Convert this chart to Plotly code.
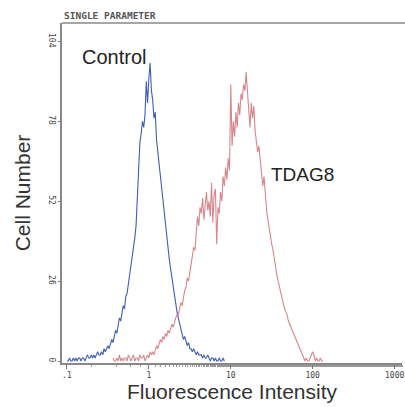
import numpy as np
import plotly.graph_objects as go

# 256-channel, 4-decade log histogram (64 channels per decade, channel 0 = 0.1)
CHANNELS_PER_DECADE = 64
control_start_channel = 0
control_counts = [
    0, 0, 1, 0, 0, 1, 0, 1, 0, 1, 1,
    0, 1, 1, 0, 1, 2, 1, 1, 2, 1,
    2, 1, 2, 3, 2, 2, 3, 2, 4, 3,
    4, 5, 4, 6, 7, 6,
    8, 10, 9, 12, 14, 13,
    16, 18, 17, 21, 22, 25,
    27, 31, 33, 37, 40, 44,
    52, 60, 71, 74, 78, 76,
    80, 91, 84, 92, 97, 88,
    85, 79, 81, 72, 68, 63,
    59, 55, 51, 47, 43, 40,
    37, 33, 30, 27, 24, 21,
    18, 16, 14, 12, 10, 9,
    7, 8, 6, 5, 6, 4,
    4, 3, 4, 3, 2, 3, 2, 2,
    2, 1, 2, 1, 1, 2, 1, 0, 1, 1, 0,
    1, 0, 0, 1, 0, 0, 1, 0,
]
tdag8_start_channel = 36
tdag8_counts = [
    1, 0, 0, 1, 0, 2, 0, 1, 0, 1,
    1, 0, 2, 1, 0, 1, 2, 0, 1, 1,
    0, 2, 1, 1, 2, 0, 1, 2,
    1, 3, 2, 3, 2, 4, 5,
    4, 6, 7, 6, 8, 7, 9, 8,
    10, 9, 11, 12, 11, 13, 14, 15,
    15, 17, 19, 18, 21, 23, 24, 27,
    26, 29, 31, 34, 37, 36, 42, 47,
    44, 50, 48, 53, 46, 51, 55, 49,
    52, 47, 58, 45, 54, 56, 38, 50,
    48, 55, 52, 60, 57, 63, 59, 66,
    62, 90, 70, 78, 73, 81, 76, 84,
    80, 87, 85, 90, 88, 94, 86, 82,
    76, 84, 79, 83, 75, 72, 68, 70,
    65, 62, 57, 60, 53, 49, 46, 43,
    41, 38, 36, 33, 31, 28, 26, 24,
    22, 21, 19, 17, 16, 15, 13, 12,
    11, 10, 9, 8, 7, 6, 5, 4,
    3, 2, 1, 0, 1, 0, 0, 1, 2, 3,
    2, 0, 1, 0, 0, 1, 0, 0,
]
x_tick_values = [0.1, 1, 10, 100, 1000]
x_tick_labels = [".1", "1", "10", "100", "1000"]
y_tick_values = [0, 26, 52, 78, 104]
y_tick_labels = ["0", "26", "52", "78", "104"]


def channel_to_intensity(start, n):
    ch = np.arange(start, start + n)
    return 10 ** (ch / CHANNELS_PER_DECADE - 1)


fig = go.Figure()
fig.add_trace(go.Scatter(
    x=channel_to_intensity(control_start_channel, len(control_counts)),
    y=control_counts, mode="lines",
    line=dict(color="#3d5fb2", width=1.1), showlegend=False))
fig.add_trace(go.Scatter(
    x=channel_to_intensity(tdag8_start_channel, len(tdag8_counts)),
    y=tdag8_counts, mode="lines",
    line=dict(color="#d8868c", width=1.1), showlegend=False))

tickfont = dict(family="DejaVu Sans Mono", size=8, color="#444444")
fig.update_layout(
    width=405, height=407,
    margin=dict(l=62, r=3, t=23, b=44),
    paper_bgcolor="white", plot_bgcolor="white",
    xaxis=dict(type="log", range=[-1.06, 3.09], automargin=False,
               tickvals=x_tick_values, ticktext=x_tick_labels,
               ticks="outside", ticklen=4, tickcolor="#777",
               minor=dict(ticks="outside", ticklen=2, tickcolor="#999",
                          showgrid=False),
               showgrid=False, zeroline=False,
               showline=True, linecolor="#888", linewidth=1.5,
               tickfont=tickfont,
               title=dict(text="Fluorescence Intensity",
                          font=dict(family="Liberation Sans", size=21, color="#333"),
                          standoff=2)),
    yaxis=dict(range=[-0.65, 110], automargin=False,
               tickvals=y_tick_values, ticktext=y_tick_labels,
               tickangle=90, ticks="outside", ticklen=2, tickcolor="#777",
               showgrid=False, zeroline=False,
               showline=True, linecolor="#888", linewidth=1.5,
               tickfont=tickfont,
               title=dict(text="Cell Number",
                          font=dict(family="Liberation Sans", size=21, color="#333"),
                          standoff=10)),
    shapes=[dict(type="line", xref="paper", yref="paper", x0=0, x1=1.01,
                 y0=1, y1=1, line=dict(color="#888", width=1.5))],
    annotations=[
        dict(text="<b>SINGLE PARAMETER</b>", xref="paper", yref="paper",
             x=0, y=1.0, xanchor="left", yanchor="bottom", showarrow=False,
             font=dict(family="DejaVu Sans Mono", size=9.5, color="#555")),
        dict(text="Control", xref="paper", yref="paper",
             x=0.152, y=0.9, xanchor="center", yanchor="middle", showarrow=False,
             font=dict(family="Liberation Sans", size=20, color="#222")),
        dict(text="TDAG8", xref="paper", yref="paper",
             x=0.708, y=0.555, xanchor="center", yanchor="middle", showarrow=False,
             font=dict(family="Liberation Sans", size=19, color="#222")),
    ],
)
fig.write_html("out.html",
               config={"displayModeBar": False},
               post_script="document.body.style.margin='0px';"
                           "document.body.style.overflow='hidden';")
